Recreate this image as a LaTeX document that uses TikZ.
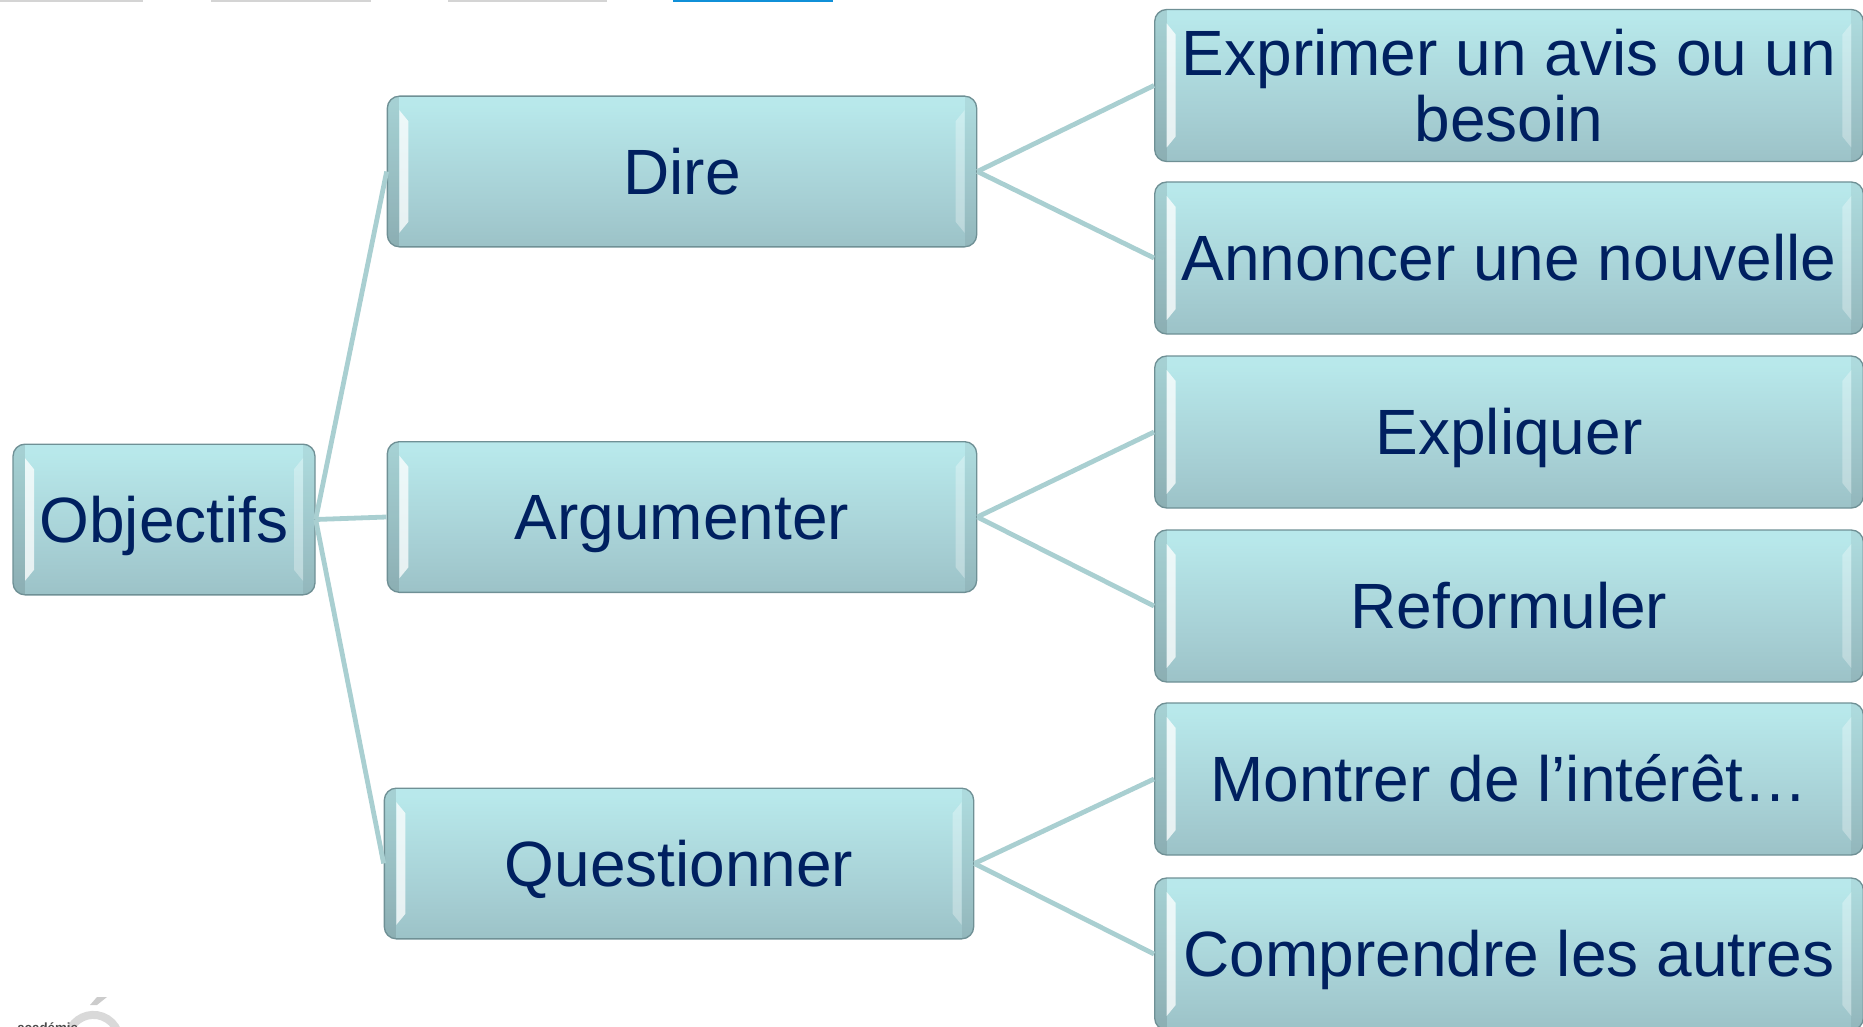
\documentclass[tikz,border=0pt]{standalone}
\usepackage{fontspec}
\setmainfont{Liberation Sans}
\usetikzlibrary{calc}
\definecolor{ink}{HTML}{002060}
\definecolor{edgec}{HTML}{6F9095}
\definecolor{linkc}{HTML}{A9CFD1}
\definecolor{tabblue}{HTML}{1090D8}
\pgfdeclareverticalshading{glassy}{100bp}{
  rgb(0bp)=(0.52,0.66,0.68);
  rgb(8bp)=(0.55,0.69,0.71);
  rgb(9bp)=(0.57,0.71,0.73);
  rgb(40bp)=(0.65,0.81,0.83);
  rgb(72bp)=(0.72,0.91,0.92);
  rgb(90bp)=(0.72,0.91,0.92);
  rgb(92bp)=(0.68,0.88,0.87);
  rgb(100bp)=(0.66,0.84,0.84)}
\tikzset{
  x=0.75pt,y=-0.75pt,
  link/.style={draw=linkc,line width=3.6pt},
  box/.style={draw=edgec,line width=1pt,rounded corners=9pt,shading=glassy,
    text=ink,align=center,inner sep=0pt,font=\fontsize{48}{50}\selectfont,
    path picture={
      \fill[sharp corners,black,opacity=.10] (path picture bounding box.north west) rectangle ([xshift=9pt]path picture bounding box.south west);
      \fill[sharp corners,black,opacity=.06] (path picture bounding box.north east) rectangle ([xshift=-9pt]path picture bounding box.south east);
      \fill[sharp corners,white,opacity=.75]
        ([shift={(12,14)}]path picture bounding box.north west) --
        ([shift={(21,25)}]path picture bounding box.north west) --
        ([shift={(21,-25)}]path picture bounding box.south west) --
        ([shift={(12,-14)}]path picture bounding box.south west) -- cycle;
      \fill[sharp corners,white,opacity=.30]
        ([shift={(-12,14)}]path picture bounding box.north east) --
        ([shift={(-21,25)}]path picture bounding box.north east) --
        ([shift={(-21,-25)}]path picture bounding box.south east) --
        ([shift={(-12,-14)}]path picture bounding box.south east) -- cycle;
    }},
  oneline/.style={text height=38pt,text depth=4pt},
  rootbox/.style={box,oneline,minimum width=226.5pt,minimum height=113pt},
  midbox/.style={box,oneline,minimum width=442pt,minimum height=113pt},
  leafbox/.style={box,minimum width=531.5pt,minimum height=114pt},
  leafone/.style={leafbox,oneline},
  logoc/.style={draw=black!15,line width=6pt}
}
\begin{document}
\begin{tikzpicture}
\useasboundingbox (0,0) rectangle (1863,1027);
% top tabs
\fill[black!17] (0,0) rectangle (143,2);
\fill[black!17] (211,0) rectangle (371,2);
\fill[black!17] (448,0) rectangle (607,2);
\fill[tabblue] (673,0) rectangle (833,2);
% logo
\draw[logoc] (69,1032) arc[start angle=200,end angle=340,radius=26];
\fill[black!20] (90,1005) -- (97,997) -- (107,997) -- (97,1005) -- cycle;
\node[anchor=base west,inner sep=0pt,font=\bfseries\fontsize{10}{12}\selectfont,text=black!70] (logotext) at (17,1032) {académie};
% boxes
\node[rootbox] (obj) at (164,519.5) {Objectifs};
\node[midbox] (dire) at (682,171.5) {Dire};
\node[midbox] (arg) at (682,517) {Argumenter};
\node[midbox] (que) at (679,863.5) {Questionner};
\node[leafbox] (r1) at (1509,85.5) {Exprimer un avis ou un\\besoin};
\node[leafone] (r2) at (1509,258) {Annoncer une nouvelle};
\node[leafone] (r3) at (1509,432) {Expliquer};
\node[leafone] (r4) at (1509,606) {Reformuler};
\node[leafone] (r5) at (1509,779) {Montrer de l’intérêt…};
\node[leafone] (r6) at (1509,954) {Comprendre les autres};
% connectors
\draw[link] (obj.east) -- (dire.west);
\draw[link] (obj.east) -- (arg.west);
\draw[link] (obj.east) -- (que.west);
\draw[link] (dire.east) -- (r1.west);
\draw[link] (dire.east) -- (r2.west);
\draw[link] (arg.east) -- (r3.west);
\draw[link] (arg.east) -- (r4.west);
\draw[link] (que.east) -- (r5.west);
\draw[link] (que.east) -- (r6.west);
\end{tikzpicture}
\end{document}
